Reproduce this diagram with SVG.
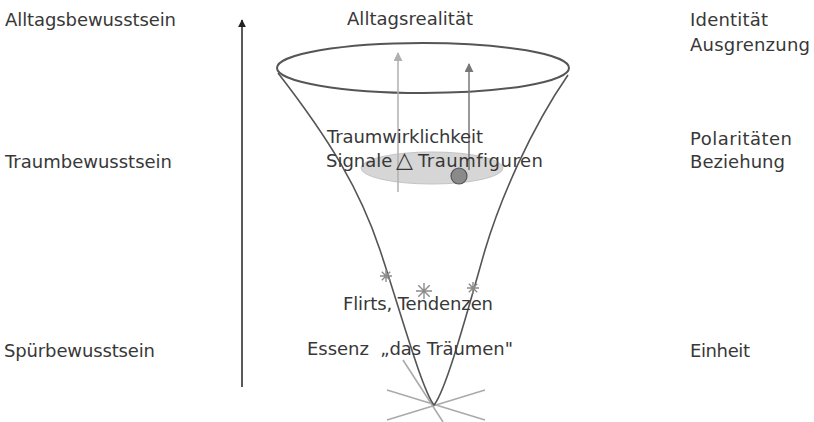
<svg xmlns="http://www.w3.org/2000/svg" width="814" height="422" viewBox="0 0 814 422">
<style>
text{font-family:"DejaVu Sans","Liberation Sans",sans-serif;font-size:18px;fill:#383838}
.funnel{fill:none;stroke:#555;stroke-width:1.6}
.star{stroke:#aaa;stroke-width:1.6;fill:none}
.ast{stroke:#8c8c8c;stroke-width:1.4;fill:none}
</style>
<defs>
<marker id="hDark" viewBox="0 0 10 10" refX="9" refY="5" markerWidth="8" markerHeight="8" markerUnits="userSpaceOnUse" orient="auto"><path d="M0,0 L10,5 L0,10 z" fill="#222"/></marker>
<marker id="hLight" viewBox="0 0 10 10" refX="9" refY="5" markerWidth="9" markerHeight="9" markerUnits="userSpaceOnUse" orient="auto"><path d="M0,0 L10,5 L0,10 z" fill="#b0b0b0"/></marker>
<marker id="hMid" viewBox="0 0 10 10" refX="9" refY="5" markerWidth="9" markerHeight="9" markerUnits="userSpaceOnUse" orient="auto"><path d="M0,0 L10,5 L0,10 z" fill="#777"/></marker>
</defs>
<rect width="814" height="422" fill="#fff"/>

<g id="levels-left">
<text x="5" y="26" textLength="171">Alltagsbewusstsein</text>
<text x="5" y="168" textLength="167">Traumbewusstsein</text>
<text x="4" y="357" textLength="151">Spürbewusstsein</text>
</g>

<g id="levels-right">
<text x="690" y="26" textLength="78">Identität</text>
<text x="690" y="51" textLength="120">Ausgrenzung</text>
<text x="690" y="145" textLength="102">Polaritäten</text>
<text x="690" y="168" textLength="95">Beziehung</text>
<text x="690" y="357" textLength="60">Einheit</text>
</g>

<g id="funnel">
<path class="star" d="M387,390 L485,420 M387,420 L485,390 M403,360 L443,422"/>
<ellipse cx="432" cy="168" rx="71" ry="16" fill="#d6d6d6" stroke="#c4c4c4" stroke-width="1"/>
<path class="funnel" d="M278,73 C330,140 360,190 380,250 C400,310 422,390 434,405 C446,390 465,320 485,250 C500,200 530,130 568,75"/>
<ellipse cx="423" cy="68" rx="146" ry="25" fill="none" stroke="#555" stroke-width="2"/>
</g>

<g id="asterisks">
<g class="ast" transform="translate(386,276)"><path d="M-6,0 H6 M0,-6 V6 M-4.2,-4.2 L4.2,4.2 M-4.2,4.2 L4.2,-4.2"/></g>
<g class="ast" transform="translate(424,291)"><path d="M-8,0 H8 M0,-8 V8 M-5.7,-5.7 L5.7,5.7 M-5.7,5.7 L5.7,-5.7"/></g>
<g class="ast" transform="translate(473,288)"><path d="M-6,0 H6 M0,-6 V6 M-4.2,-4.2 L4.2,4.2 M-4.2,4.2 L4.2,-4.2"/></g>
</g>

<g id="connectors">
<line x1="242" y1="387" x2="242" y2="20" stroke="#222" stroke-width="1.5" marker-end="url(#hDark)"/>
<line x1="398" y1="192" x2="398" y2="53" stroke="#b0b0b0" stroke-width="1.5" marker-end="url(#hLight)"/>
<line x1="469" y1="170" x2="469" y2="64" stroke="#777" stroke-width="1.5" marker-end="url(#hMid)"/>
</g>

<g id="figure">
<circle cx="459" cy="176" r="8" fill="#8a8a8a" stroke="#555" stroke-width="1.2"/>
</g>

<g id="labels-center">
<text x="347" y="25" textLength="126">Alltagsrealität</text>
<text x="327" y="143" textLength="156">Traumwirklichkeit</text>
<text y="167"><tspan x="326">Signale</tspan><tspan x="396" font-size="22">△</tspan><tspan x="418" letter-spacing="0.5">Traumfiguren</tspan></text>
<text x="343" y="310" textLength="150">Flirts, Tendenzen</text>
<text x="307" y="355" textLength="206" xml:space="preserve">Essenz  „das Träumen"</text>
</g>
</svg>
